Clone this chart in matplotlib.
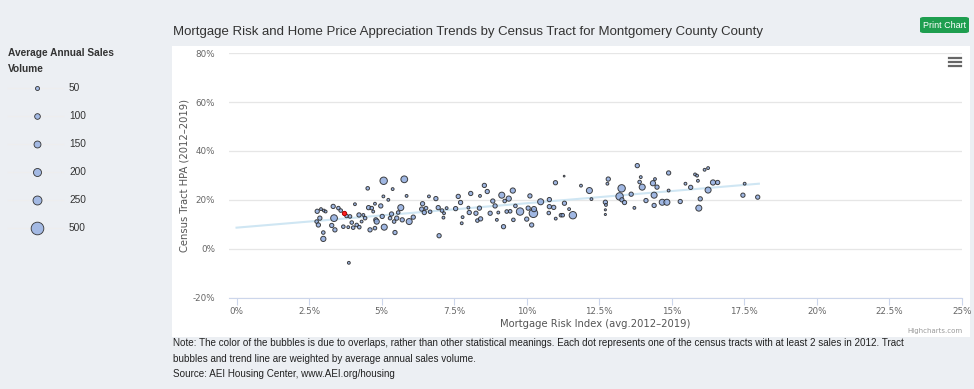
import numpy as np
import matplotlib
matplotlib.use('Agg')
import matplotlib.pyplot as plt
from matplotlib.patches import Rectangle, FancyBboxPatch
from matplotlib.lines import Line2D

plt.rcParams['font.family'] = ['Liberation Sans', 'DejaVu Sans']

# Mortgage risk index (%), tract HPA 2012-2019 (%), avg annual sales volume
risk = [2.78, 2.76, 2.82, 2.87, 2.91, 3.01, 3.07, 2.99, 2.99, 3.33, 3.36, 3.28, 3.39, 3.51, 3.59,
        3.79, 3.68, 3.85, 3.91, 3.87, 3.97, 4.02, 4.08, 4.14, 4.22, 4.23, 4.31, 4.37, 4.43, 4.52,
        4.55, 4.60, 4.66, 4.71, 4.77, 4.80, 4.83, 4.77, 4.97, 5.02, 5.06, 5.07, 5.09, 5.23, 5.29,
        5.34, 5.38, 5.43, 5.46, 5.52, 5.57, 5.66, 5.71, 5.78, 5.86, 5.95, 6.09, 6.38, 6.41, 6.47,
        6.53, 6.63, 6.67, 6.87, 6.95, 6.98, 7.08, 7.13, 7.15, 7.24, 7.55, 7.64, 7.72, 7.76, 7.79,
        7.99, 8.02, 8.07, 8.25, 8.30, 8.37, 8.39, 8.41, 8.54, 8.64, 8.74, 8.83, 8.91, 8.97, 9.02,
        9.14, 9.20, 9.24, 9.31, 9.38, 9.43, 9.52, 9.54, 9.61, 9.77, 10.00, 10.05, 10.11, 10.17, 10.23,
        10.25, 10.48, 10.99, 10.78, 10.78, 10.93, 10.76, 11.00, 11.18, 11.24, 11.29, 11.30, 11.46, 11.59,
        11.87, 12.16, 12.23, 12.71, 12.73, 12.71, 12.71, 12.78, 12.81, 13.27, 13.20, 13.28, 13.37, 13.60,
        13.71, 13.81, 13.93, 13.89, 13.98, 14.11, 14.35, 14.42, 14.39, 14.49, 14.39, 14.67, 14.83, 14.89,
        14.89, 15.29, 15.47, 15.65, 15.80, 15.87, 15.90, 15.93, 15.98, 16.13, 16.25, 16.25, 16.42, 16.58,
        17.45, 17.51, 17.96]
hpa = [15.3, 11.1, 9.7, 12.5, 16.2, 15.6, 15.2, 6.6, 4.0, 17.3, 12.5, 9.5, 7.7, 16.6, 15.6,
       13.4, 9.0, 8.8, 13.2, -5.8, 10.7, 8.6, 18.2, 9.7, 13.8, 8.8, 11.1, 13.8, 12.5, 24.7,
       16.8, 7.7, 16.6, 15.2, 18.4, 11.8, 11.1, 8.4, 17.5, 13.2, 21.4, 27.8, 8.8, 20.0, 12.5,
       14.2, 24.4, 11.1, 6.6, 12.5, 14.8, 16.8, 11.8, 28.4, 21.6, 11.1, 12.9, 16.2, 18.4, 14.8,
       16.6, 21.4, 15.1, 20.5, 16.8, 5.3, 15.6, 12.7, 14.5, 16.6, 16.4, 21.4, 18.9, 10.4, 12.9,
       16.8, 14.8, 22.6, 14.5, 11.5, 16.6, 21.6, 12.2, 25.9, 23.4, 14.5, 19.5, 17.5, 11.8, 14.8,
       21.9, 9.0, 19.5, 15.2, 20.5, 15.3, 23.8, 11.8, 17.5, 15.2, 12.1, 16.6, 21.6, 9.7, 14.5,
       16.2, 19.2, 27.0, 20.1, 17.2, 16.9, 14.6, 12.3, 13.7, 13.7, 29.7, 18.6, 16.2, 13.7,
       25.8, 23.8, 20.3, 19.0, 17.9, 15.9, 14.0, 26.6, 28.5, 24.7, 21.4, 20.0, 18.9, 22.3,
       16.7, 34.0, 29.3, 27.3, 25.2, 19.7, 26.8, 28.5, 21.9, 25.2, 17.7, 19.0, 19.0, 31.0,
       23.8, 19.3, 26.6, 25.1, 30.4, 29.9, 27.8, 16.6, 20.4, 32.3, 33.0, 24.0, 27.1, 27.1,
       21.9, 26.6, 21.1]
volume = [50, 35, 50, 50, 22, 22, 22, 35, 75, 50, 125, 50, 50, 35, 35,
          35, 35, 22, 35, 22, 35, 35, 22, 35, 50, 35, 22, 22, 35, 35,
          50, 50, 35, 22, 22, 50, 75, 35, 50, 50, 22, 150, 100, 22, 35,
          50, 22, 35, 50, 50, 35, 100, 50, 125, 22, 100, 50, 50, 50, 50,
          35, 22, 35, 50, 50, 50, 35, 22, 22, 22, 50, 50, 50, 22, 22,
          22, 50, 50, 50, 35, 50, 22, 50, 50, 50, 50, 50, 50, 22, 22,
          100, 50, 35, 35, 75, 35, 75, 35, 35, 150, 50, 50, 50, 50, 200,
          75, 100, 50, 50, 50, 50, 35, 22, 35, 35, 8, 50, 22, 150,
          22, 100, 22, 50, 22, 12, 12, 22, 50, 150, 150, 50, 50, 50,
          22, 50, 22, 35, 100, 50, 75, 22, 100, 50, 50, 100, 100, 50,
          22, 50, 22, 50, 22, 22, 22, 100, 50, 22, 22, 100, 75, 50,
          50, 22, 50]

# highlighted tract
red_risk, red_hpa, red_vol = 3.70, 14.5, 50

# weighted trend line end points
trend_x = [0, 18.0]
trend_y = [8.6, 26.6]

legend_vals = [50, 100, 150, 200, 250, 500]

scale = 0.19
W, H = 974, 389
fig = plt.figure(figsize=(W / 100, H / 100), dpi=100, facecolor='#eceff3')

# white chart panel
fig.patches.append(Rectangle((172 / W, 1 - 337 / H), (970 - 172) / W, (337 - 46) / H,
                             transform=fig.transFigure, facecolor='white', edgecolor='none', zorder=-5))

x0, x1 = 229, 962
ax = fig.add_axes([x0 / W, 1 - 297.5 / H, (x1 - x0) / W, (297.5 - 53.3) / H])
ax.patch.set_alpha(0)
ax.set_xlim(-0.26, 25)
ax.set_ylim(-20, 80)

for yv in range(-20, 81, 20):
    ax.axhline(yv, color='#e6e6e6', lw=0.9, zorder=0)

ax.plot(trend_x, trend_y, color='#cfe6f3', lw=1.5, zorder=1)
ax.scatter(risk, hpa, s=np.array(volume) * scale, facecolor='#8fabdd', alpha=0.85,
           edgecolor='#222222', linewidth=0.7, zorder=2)
ax.scatter([red_risk], [red_hpa], s=red_vol * scale, facecolor='#ff2020',
           edgecolor='#aa0000', linewidth=0.7, zorder=3)

for s in ['top', 'right', 'left']:
    ax.spines[s].set_visible(False)
ax.spines['bottom'].set_color('#ccd6eb')

xt = np.arange(0, 25.01, 2.5)
ax.set_xticks(xt)
ax.set_xticklabels(['%g%%' % v for v in xt], fontsize=6.3, color='#666666', family='DejaVu Sans')
ax.tick_params(axis='x', length=5, color='#ccd6eb', pad=2)
yt = np.arange(-20, 81, 20)
ax.set_yticks(yt)
ax.set_yticklabels(['%d%%' % v for v in yt], fontsize=6.3, color='#666666', family='DejaVu Sans')
ax.tick_params(axis='y', length=0, pad=10)

ax.set_xlabel('Mortgage Risk Index (avg.2012–2019)', fontsize=7.2, color='#555555',
              family='DejaVu Sans', labelpad=2)
ax.set_ylabel('Census Tract HPA (2012–2019)', fontsize=7.2, color='#555555',
              family='DejaVu Sans', labelpad=2)

# title and button
fig.text(173 / W, 1 - 32 / H, 'Mortgage Risk and Home Price Appreciation Trends by Census Tract for Montgomery County County',
         fontsize=9.5, color='#333333', va='center', ha='left')
fig.patches.append(FancyBboxPatch((920 / W, 1 - 33 / H), 49 / W, 16 / H,
                                  boxstyle='round,pad=0,rounding_size=0.004',
                                  transform=fig.transFigure, facecolor='#1e9e4f', edgecolor='none'))
fig.text(944.5 / W, 1 - 25 / H, 'Print Chart', fontsize=6.5, color='white', ha='center', va='center')

# hamburger menu
for yy in [58, 62, 66]:
    fig.lines.append(Line2D([949 / W, 961 / W], [1 - yy / H, 1 - yy / H], transform=fig.transFigure,
                            color='#666666', lw=1.6))

fig.text(963 / W, 1 - 331 / H, 'Highcharts.com', fontsize=5, color='#999999', ha='right', va='center',
         family='DejaVu Sans')

# bubble size legend
fig.text(8 / W, 1 - 53 / H, 'Average Annual Sales', fontsize=7.3, fontweight='bold', color='#333333', va='center')
fig.text(8 / W, 1 - 69 / H, 'Volume', fontsize=7.3, fontweight='bold', color='#333333', va='center')
for i, v in enumerate(legend_vals):
    yy = 1 - (88 + i * 28) / H
    fig.lines.append(Line2D([8 / W, 63 / W], [yy, yy], transform=fig.transFigure, color='#eeeeee', lw=0.8))
    fig.lines.append(Line2D([36.7 / W], [yy], transform=fig.transFigure, marker='o', linestyle='none',
                            markersize=np.sqrt(v * 0.166), markerfacecolor='#a3b9e3',
                            markeredgecolor='#333333', markeredgewidth=0.6))
    fig.text(69 / W, yy, str(v), fontsize=7.3, color='#333333', va='center')

# note
notes = ['Note: The color of the bubbles is due to overlaps, rather than other statistical meanings. Each dot represents one of the census tracts with at least 2 sales in 2012. Tract',
         'bubbles and trend line are weighted by average annual sales volume.',
         'Source: AEI Housing Center, www.AEI.org/housing']
for i, t in enumerate(notes):
    fig.text(173 / W, 1 - (343 + i * 15.5) / H, t, fontsize=7.1, color='#222222', va='center')

fig.savefig('out.png', dpi=100, facecolor=fig.get_facecolor())
